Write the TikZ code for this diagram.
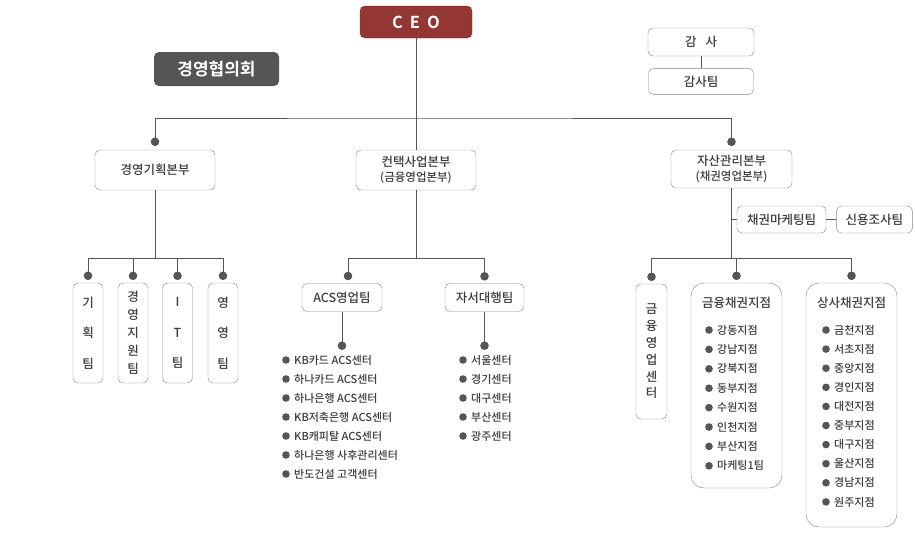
\documentclass[tikz,border=0pt]{standalone}
\usepackage{fontspec}
\setmainfont{Noto Sans CJK KR Medium}[BoldFont={Noto Sans CJK KR Bold}]
\usetikzlibrary{positioning,calc}
\definecolor{ceored}{HTML}{943634}
\definecolor{councilgray}{HTML}{555555}
\definecolor{boxgray}{HTML}{858585}
\definecolor{linegray}{HTML}{555555}
\definecolor{textgray}{HTML}{3C3C3C}

\begin{document}
\begin{tikzpicture}[x=1pt, y=-1pt]
\tikzset{
ceo/.style = {rectangle, draw=ceored!80!black, fill=ceored, rounded corners=5pt, text=white, minimum width=112pt, minimum height=32pt, font=\bfseries\fontsize{16.5}{18}\selectfont},
council/.style = {rectangle, fill=councilgray, rounded corners=5pt, text=white, minimum width=125pt, minimum height=34pt, font=\bfseries\fontsize{17}{20}\selectfont},
unit/.style = {rectangle, draw=boxgray, rounded corners=5pt, text=textgray, align=center, inner sep=0pt, font=\fontsize{12.5}{15}\selectfont},
team/.style = {unit, minimum width=30pt, minimum height=100pt},
panel/.style = {draw=boxgray, rounded corners=13pt, minimum width=91pt},
heading/.style = {inner sep=0pt, text=textgray, font=\fontsize{12.5}{15}\selectfont},
item/.style = {anchor=west, inner sep=0pt, text=textgray, font=\fontsize{11}{12}\selectfont},
line/.style = {draw=linegray, line width=1pt},
dot/.style = {fill=linegray}
}
\useasboundingbox (0,0) rectangle (915,557);

     \node [ceo] (ceo) at (416,22) {C\hspace{7pt}E\hspace{7pt}O};
     \node [council] (council) at (216.5,69) {경영협의회};
     \node [unit, minimum width=106pt, minimum height=28pt] (audit) at (701,42) {감\hspace{9pt}사};
     \node [unit, minimum width=105pt, minimum height=26pt, below=12pt of audit] (auditteam) {감사팀};

     \node [unit, minimum width=120pt, minimum height=40pt] (plan) at (155,170) {경영기획본부};
     \node [unit, minimum width=120pt, minimum height=40pt] (contact) at (416,170) {컨택사업본부\\{\fontsize{11.5}{15}\selectfont(금융영업본부)}};
     \node [unit, minimum width=121pt, minimum height=38pt] (asset) at (731.5,169) {자산관리본부\\{\fontsize{11.5}{15}\selectfont(채권영업본부)}};
     \node [unit, minimum width=89pt, minimum height=27pt] (bondmkt) at (781.5,219.5) {채권마케팅팀};
     \node [unit, minimum width=76pt, minimum height=27pt, right=10pt of bondmkt] (credit) {신용조사팀};

     \node [team, font=\fontsize{12.5}{30.5}\selectfont] (t1) at (88,333) {기\\획\\팀};
     \node [team, font=\fontsize{12.5}{18}\selectfont] (t2) at (133,333) {경\\영\\지\\원\\팀};
     \node [team, font=\fontsize{12.5}{30.5}\selectfont] (t3) at (177.5,333) {I\\T\\팀};
     \node [team, font=\fontsize{12.5}{30.5}\selectfont] (t4) at (223,333) {영\\영\\팀};

     \node [unit, minimum width=80pt, minimum height=28pt] (acs) at (342,297.5) {ACS영업팀};
     \node [unit, minimum width=79pt, minimum height=28pt] (agency) at (484.5,297.5) {자서대행팀};

     \node [unit, minimum width=31pt, minimum height=135pt, font=\fontsize{12.5}{16.8}\selectfont] (fincenter) at (651.5,351.5) {금\\융\\영\\업\\센\\터};
     \node [panel, minimum height=205pt] (finbranch) at (736.5,385.5) {};
     \node [heading] (finbranch-t) at ($(finbranch.north)+(0,20)$) {금융채권지점};
     \node [panel, minimum height=244pt] (tradebranch) at (851.5,405) {};
     \node [heading] (tradebranch-t) at ($(tradebranch.north)+(0,20)$) {상사채권지점};

     % lists
     \foreach \n [count=\i from 0] in {KB카드 ACS센터, 하나카드 ACS센터, 하나은행 ACS센터, KB저축은행 ACS센터, KB캐피탈 ACS센터, 하나은행 사후관리센터, 반도건설 고객센터}{
       \node [item] (acs\i) at (294,{360+19*\i}) {\n};
       \fill [dot] ($(acs\i.west)+(-8,0)$) circle (3.8pt);
     }
     \foreach \n [count=\i from 0] in {서울센터, 경기센터, 대구센터, 부산센터, 광주센터}{
       \node [item] (ag\i) at (471,{360+19*\i}) {\n};
       \fill [dot] ($(ag\i.west)+(-8,0)$) circle (3.8pt);
     }
     \foreach \n [count=\i from 0] in {강동지점, 강남지점, 강북지점, 동부지점, 수원지점, 인천지점, 부산지점, 마케팅1팀}{
       \node [item] (fb\i) at (717,{330+19.4*\i}) {\n};
       \fill [dot] ($(fb\i.west)+(-8,0)$) circle (3.8pt);
     }
     \foreach \n [count=\i from 0] in {금천지점, 서초지점, 중앙지점, 경인지점, 대전지점, 중부지점, 대구지점, 울산지점, 경남지점, 원주지점}{
       \node [item] (tb\i) at (834,{330+19.1*\i}) {\n};
       \fill [dot] ($(tb\i.west)+(-8,0)$) circle (3.8pt);
     }

     % connectors
     \coordinate (top) at (416,118);
     \path [line] (ceo) -- (contact);
     \path [line] (audit) -- (auditteam);
     \path [line] ([yshift=8pt]plan.north) |- (top) -| ([yshift=8pt]asset.north);
     \fill [dot] ([yshift=8pt]plan.north) circle (4.3pt);
     \fill [dot] ([yshift=8pt]asset.north) circle (4.3pt);

     \path [line] (plan.south) -- ++(0,68) coordinate (lbus);
     \path [line] ([yshift=7pt]t1.north) |- (lbus) -| ([yshift=7pt]t4.north);
     \foreach \t in {t2,t3} \path [line] ([yshift=7pt]\t.north) -- (\t.north |- lbus);
     \foreach \t in {t1,t2,t3,t4} \fill [dot] ([yshift=7pt]\t.north) circle (4.3pt);

     \path [line] (contact.south) -- ++(0,68) coordinate (mbus);
     \coordinate (acsdot) at (348,276);
     \path [line] (acsdot) |- (mbus) -| ([yshift=7pt]agency.north);
     \fill [dot] (acsdot) circle (4.3pt);
     \fill [dot] ([yshift=7pt]agency.north) circle (4.3pt);
     \path [line] (acs.south) -- ++(0,34) coordinate (acsend);
     \path [line] (agency.south) -- ++(0,34) coordinate (agend);
     \fill [dot] (acsend) circle (4.3pt);
     \fill [dot] (agend) circle (4.3pt);

     \path [line] (asset.south) -- ++(0,70) coordinate (rbus);
     \path [line] (asset.south |- bondmkt.west) -- (bondmkt.west);
     \path [line] (bondmkt) -- (credit);
     \path [line] ([yshift=7pt]fincenter.north) |- (rbus) -| ([yshift=7pt]tradebranch.north);
     \path [line] ([yshift=7pt]finbranch.north) -- (finbranch.north |- rbus);
     \foreach \t in {fincenter,finbranch,tradebranch} \fill [dot] ([yshift=7pt]\t.north) circle (4.3pt);
\end{tikzpicture}
\end{document}
